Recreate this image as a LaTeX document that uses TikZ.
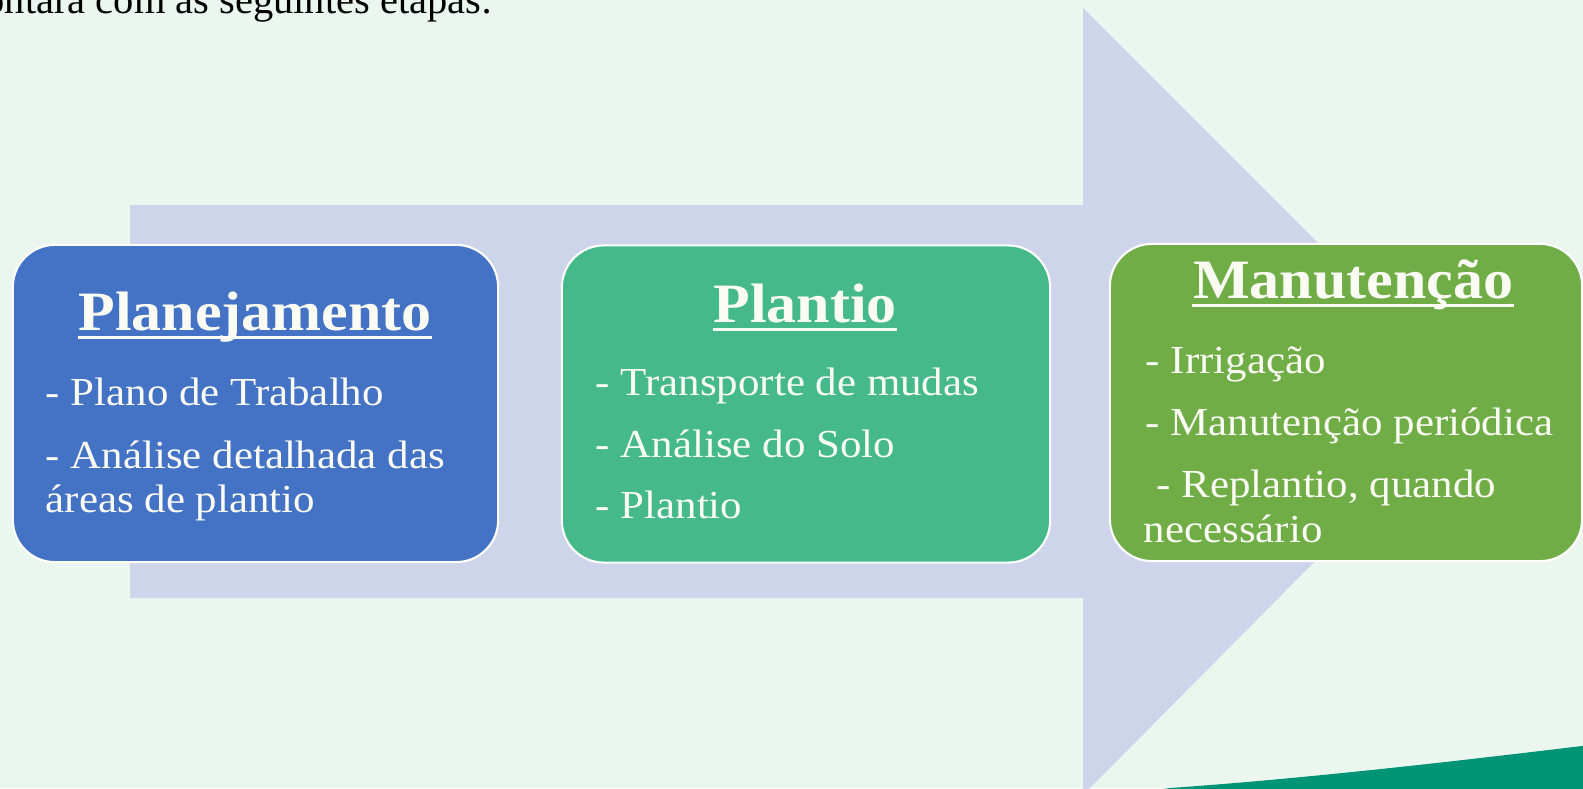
\documentclass[tikz,border=0pt]{standalone}
\usepackage{fontspec}
\setmainfont{Liberation Serif}
\newfontfamily\stagefont[FakeStretch=1.08]{Liberation Serif}
\definecolor{bg}{RGB}{235,247,238}
\definecolor{arrowc}{RGB}{206,212,234}
\definecolor{blueb}{RGB}{68,114,196}
\definecolor{tealb}{RGB}{69,185,140}
\definecolor{greenb}{RGB}{112,173,71}
\definecolor{swoosh}{RGB}{0,148,118}
\definecolor{txt}{RGB}{250,252,244}
\tikzset{
  stagebox/.style={draw=white, line width=0.6pt, rounded corners=0.42cm, minimum height=3.17cm, inner sep=0pt},
  stagetitle/.style={anchor=base, text=txt, inner sep=0pt, font=\stagefont\fontsize{15.8}{17}\selectfont\bfseries},
  uline/.style={draw=txt, line width=0.85pt},
  item/.style={anchor=base west, text=txt, font=\stagefont\fontsize{11.3}{13}\selectfont, inner sep=0pt},
}
\begin{document}
\begin{tikzpicture}[x=0.01cm,y=-0.01cm]
\useasboundingbox (0,0) rectangle (1583,788);
\clip (0,0) rectangle (1583,788);
\fill[bg] (0,0) rectangle (1583,788);
% big arrow
\fill[arrowc] (130,205) -- (1083,205) -- (1083,8) -- (1475,400) -- (1083,795) -- (1083,598) -- (130,598) -- cycle;
% swoosh
\fill[swoosh] (1120,795) -- (1170,788) .. controls (1300,779) and (1450,762) .. (1590,745) -- (1590,795) -- cycle;
% top text
\node[anchor=base east, inner sep=0pt, text=black, font=\fontsize{11.5}{13}\selectfont] (intro) at (493,14) {contará com as seguintes etapas:};
% boxes
\node[stagebox, fill=blueb, minimum width=4.85cm] (b1) at (255.5,403.5) {};
\node[stagebox, fill=tealb, minimum width=4.88cm] (b2) at (806,404) {};
\node[stagebox, fill=greenb, minimum width=4.72cm] (b3) at (1346,402.5) {};
% titles
\node[stagetitle] (t1) at (255,330) {Planejamento};
\node[stagetitle] (t2) at (805,322) {Plantio};
\node[stagetitle] (t3) at (1353,298) {Manutenção};
\draw[uline] ([yshift=-0.075cm]t1.base west) -- ([yshift=-0.075cm]t1.base east);
\draw[uline] ([yshift=-0.075cm]t2.base west) -- ([yshift=-0.075cm]t2.base east);
\draw[uline] ([yshift=-0.075cm]t3.base west) -- ([yshift=-0.075cm]t3.base east);
% items
\node[item] (i11) at (45,405) {- Plano de Trabalho};
\node[item] (i12) at (45,468) {- Análise detalhada das};
\node[item] (i13) at (45,512) {áreas de plantio};
\node[item] (i21) at (595,395) {- Transporte de mudas};
\node[item] (i22) at (595,457) {- Análise do Solo};
\node[item] (i23) at (595,518) {- Plantio};
\node[item] (i31) at (1145,373) {- Irrigação};
\node[item] (i32) at (1145,435) {- Manutenção periódica};
\node[item] (i33) at (1145,497) {\ - Replantio, quando};
\node[item] (i34) at (1143,542) {necessário};
\end{tikzpicture}
\end{document}
